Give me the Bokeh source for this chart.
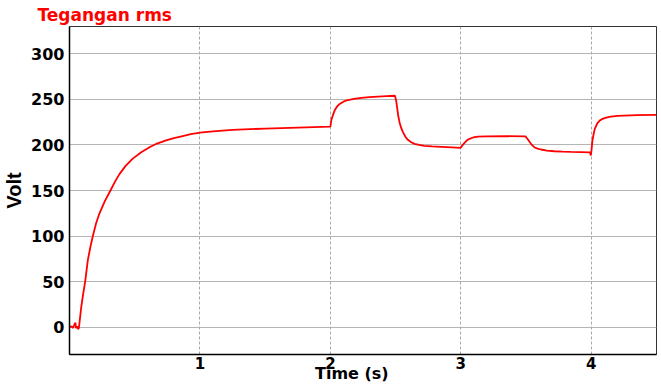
from bokeh.plotting import figure
from bokeh.models import FixedTicker, Range1d, Title
from bokeh.embed import file_html
from bokeh.resources import INLINE

# RMS voltage over time
time_s = [0.0, 0.015, 0.025, 0.035, 0.045, 0.05, 0.058, 0.065, 0.072,
          0.09, 0.1, 0.12, 0.14, 0.16, 0.179, 0.204, 0.23, 0.27, 0.314, 0.35,
          0.383, 0.43, 0.485, 0.55, 0.62, 0.66, 0.74, 0.8, 0.868, 0.93, 1.0,
          1.1, 1.25, 1.5, 1.75, 2.0,
          2.007, 2.02, 2.033, 2.05, 2.071, 2.1, 2.135, 2.18, 2.237, 2.3,
          2.364, 2.43, 2.495,
          2.505, 2.513, 2.52, 2.53, 2.542, 2.556, 2.575, 2.594, 2.62, 2.645,
          2.68, 2.72, 2.78, 2.85, 2.93, 2.997,
          3.012, 3.028, 3.045, 3.066, 3.095, 3.13, 3.2, 3.35, 3.495,
          3.512, 3.525, 3.543, 3.563, 3.588, 3.614, 3.66, 3.716, 3.78, 3.844,
          3.92, 3.99, 3.997,
          4.003, 4.009, 4.018, 4.027, 4.047, 4.065, 4.086, 4.115, 4.15, 4.2,
          4.25, 4.35, 4.5]
volt_rms = [0, 1, -1, 2, 5, -1, 1, -2, -1,
            22, 32, 50, 73, 88, 100, 114, 125, 138, 150, 160,
            168, 177, 185, 192, 198, 200.8, 205, 207.5, 209.8, 211.8, 213.5,
            215, 216.5, 218, 219, 220,
            227, 233, 238, 242, 245, 247.5, 249.3, 250.5, 251.6, 252.4,
            253, 253.5, 254,
            248, 239.5, 232, 225, 219, 214, 209, 205.6, 203, 201.2,
            200, 199, 198.4, 197.9, 197.3, 196.8,
            199.5, 202.3, 204.8, 206.7, 208.2, 209.2, 209.5, 209.6, 209.4,
            206.5, 203.7, 200.3, 197.5, 196, 195, 193.8, 193.1, 192.7, 192.4,
            192.2, 191.8, 188.5,
            196, 205, 212, 217.6, 224, 226.8, 228.6, 230, 231, 231.8,
            232.2, 232.8, 233]

x_ticks = [1, 2, 3, 4]
y_ticks = [0, 50, 100, 150, 200, 250, 300]

FONT = "DejaVu Sans"

p = figure(width=661, height=385, output_backend="svg", toolbar_location=None,
           x_range=Range1d(0, 4.5), y_range=Range1d(-30, 330),
           min_border_left=69, min_border_right=5, min_border_top=26,
           min_border_bottom=31, title=None)
p.background_fill_color = "white"
p.border_fill_color = "white"
p.outline_line_color = "#333333"
p.outline_line_width = 1

p.line(time_s, volt_rms, line_color="#ff0000", line_width=1.8)

for ax in (p.xaxis[0], p.yaxis[0]):
    ax.major_tick_in = 0
    ax.major_tick_out = 0
    ax.minor_tick_in = 0
    ax.minor_tick_out = 0
    ax.axis_line_color = "black"
    ax.axis_line_width = 1.5
    ax.major_label_text_font = FONT
    ax.major_label_text_font_style = "bold"
    ax.major_label_text_color = "black"
    ax.axis_label_text_font_style = "bold"
    ax.axis_label_text_color = "black"

p.xaxis.ticker = FixedTicker(ticks=x_ticks)
p.yaxis.ticker = FixedTicker(ticks=y_ticks)
p.xaxis.major_label_text_font_size = "15px"
p.yaxis.major_label_text_font_size = "16px"
p.xaxis.major_label_standoff = 2
p.yaxis.major_label_standoff = 5

p.yaxis.axis_label = "Volt"
p.yaxis.axis_label_text_font = "Liberation Sans"
p.yaxis.axis_label_text_font_size = "20px"
p.yaxis.axis_label_standoff = 3

# non-breaking spaces nudge the centred label a little to the left
p.xaxis.axis_label = "Time (s)\u00a0\u00a0\u00a0\u00a0"
p.xaxis.axis_label_text_font = FONT
p.xaxis.axis_label_text_font_size = "16px"
p.xaxis.axis_label_standoff = -8

p.xgrid.ticker = FixedTicker(ticks=x_ticks)
p.ygrid.ticker = FixedTicker(ticks=y_ticks)
p.xgrid.grid_line_color = "#a8a8a8"
p.xgrid.grid_line_dash = "3 2"
p.xgrid.grid_line_width = 1
p.ygrid.grid_line_color = "#b4b4b4"
p.ygrid.grid_line_width = 1.2

p.add_layout(Title(text="Tegangan rms", align="left", offset=-32,
                   standoff=4, text_font=FONT, text_font_style="bold",
                   text_font_size="17px", text_color="#ff0000"), "above")

open("out.html", "w").write(file_html(p, INLINE))
